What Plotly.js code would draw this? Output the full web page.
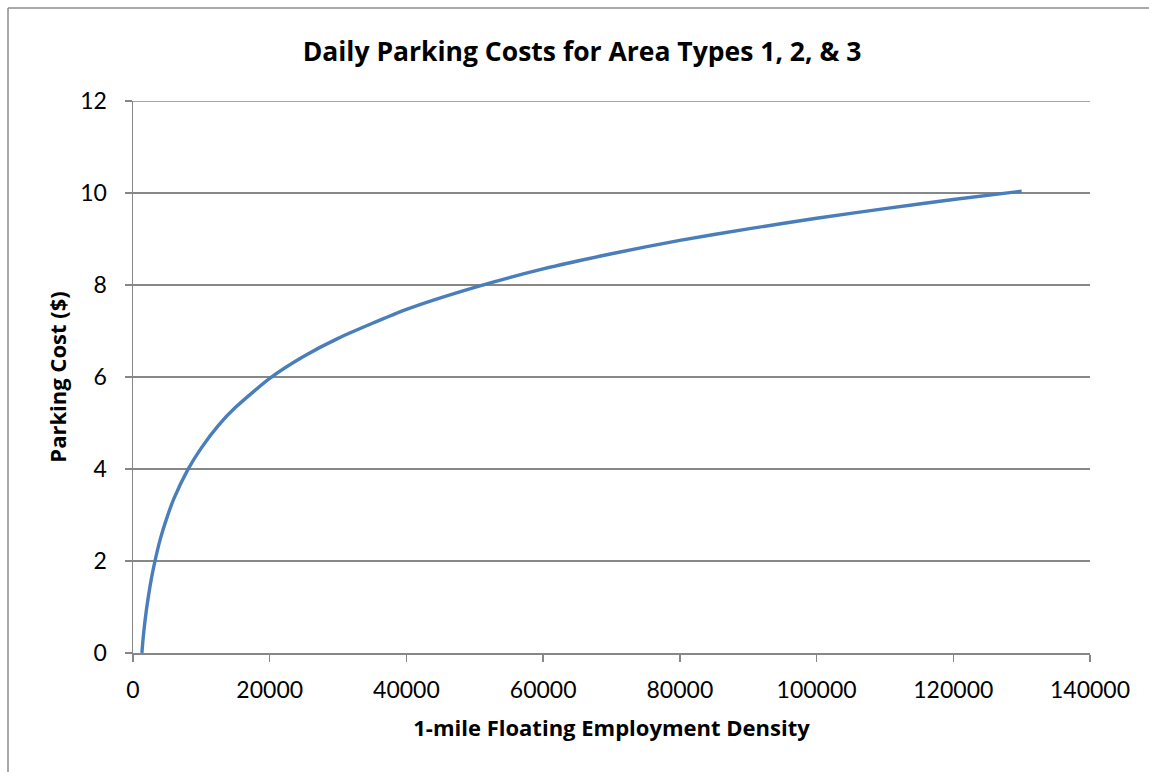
<!DOCTYPE html>
<html>
<head>
<meta charset="utf-8">
<script src="https://cdn.plot.ly/plotly-3.0.1.min.js"></script>
<style>
  html, body { margin: 0; padding: 0; background: #fff; }
  #chart { width: 1149px; height: 772px; }
</style>
</head>
<body>
<div id="chart"></div>
<script>
// Data
const density = [1300, 1500, 1750, 2000, 2500, 3000, 4000, 5000, 6000, 8000, 10000, 12500, 15000, 20000, 25000, 30000, 40000, 50000, 60000, 70000, 80000, 90000, 100000, 110000, 120000, 130000];
const parkingCost = [0.0, 0.35, 0.69, 0.98, 1.46, 1.85, 2.48, 2.96, 3.36, 3.98, 4.46, 4.95, 5.34, 5.97, 6.45, 6.84, 7.47, 7.95, 8.35, 8.68, 8.97, 9.22, 9.45, 9.66, 9.86, 10.04];
const xTicks = [0, 20000, 40000, 60000, 80000, 100000, 120000, 140000];
const yTicks = [0, 2, 4, 6, 8, 10, 12];

const chartTitle = 'Daily Parking Costs for Area Types 1, 2, & 3';
const xTitle = '1-mile Floating Employment Density';
const yTitle = 'Parking Cost ($)';

const FONT = 'Lato, "Open Sans", sans-serif';
const BOLD = '"Open Sans", Lato, sans-serif';
const GRID = '#878787';

const L = 133, R = 59, T = 101, B = 119;
const W = 1149 - L - R, H = 772 - T - B;
const px2x = p => (p - L) / W;
const py2y = p => (772 - B - p) / H;

const trace = {
  x: density,
  y: parkingCost,
  type: 'scatter',
  mode: 'lines',
  line: { color: '#4a7ebb', width: 3.4, shape: 'spline', smoothing: 0.6 },
  hoverinfo: 'x+y'
};

const layout = {
  width: 1149,
  height: 772,
  margin: { l: L, r: R, t: T, b: B, pad: 0 },
  paper_bgcolor: '#ffffff',
  plot_bgcolor: '#ffffff',
  showlegend: false,
  font: { family: FONT, color: '#000000', size: 23 },
  title: {
    text: chartTitle,
    font: { family: BOLD, size: 26.5, color: '#000000', weight: 'bold' },
    x: 582 / 1149, xref: 'container', xanchor: 'center',
    y: 1 - 52 / 772, yref: 'container', yanchor: 'middle'
  },
  xaxis: {
    range: [0, 140000],
    tickvals: xTicks,
    ticktext: xTicks.map(String),
    showgrid: false,
    zeroline: false,
    showline: true,
    linecolor: GRID,
    linewidth: 1.5,
    ticks: 'outside',
    ticklen: 7,
    tickwidth: 1.5,
    tickcolor: GRID,
    ticklabelstandoff: 9,
    tickfont: { family: FONT, size: 23, color: '#000000' },
    title: { text: xTitle, font: { family: BOLD, size: 22, color: '#000000', weight: 'bold' }, standoff: 18 },
    fixedrange: true
  },
  yaxis: {
    range: [0, 12],
    tickvals: yTicks,
    ticktext: yTicks.map(String),
    showgrid: true,
    gridcolor: GRID,
    gridwidth: 1.5,
    zeroline: false,
    showline: true,
    linecolor: GRID,
    linewidth: 1.5,
    ticks: 'outside',
    ticklen: 7,
    tickwidth: 1.5,
    tickcolor: GRID,
    ticklabelstandoff: 13,
    tickfont: { family: FONT, size: 23, color: '#000000' },
    title: { text: yTitle, font: { family: BOLD, size: 22, color: '#000000', weight: 'bold' }, standoff: 7 },
    fixedrange: true
  },
  shapes: [
    { type: 'line', xref: 'paper', yref: 'y', x0: 0, x1: 1, y0: 12, y1: 12, line: { color: GRID, width: 1.5 } },
    { type: 'line', xref: 'paper', yref: 'paper', x0: px2x(8), x1: px2x(8), y0: py2y(8), y1: py2y(780), line: { color: '#8c8c8c', width: 1.5 } },
    { type: 'line', xref: 'paper', yref: 'paper', x0: px2x(8), x1: px2x(1160), y0: py2y(8), y1: py2y(8), line: { color: '#8c8c8c', width: 1.5 } }
  ]
};

Plotly.newPlot('chart', [trace], layout, { displayModeBar: false, staticPlot: true });
</script>
</body>
</html>
